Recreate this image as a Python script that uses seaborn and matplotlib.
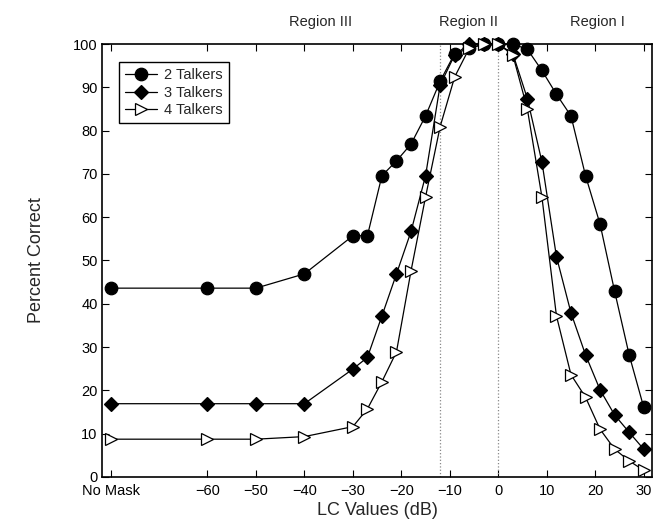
import matplotlib
matplotlib.use("Agg")
import matplotlib.pyplot as plt
import pandas as pd
import seaborn as sns

# LC values in dB; "No Mask" condition is plotted at -80
lc_values = [-80, -60, -50, -40, -30, -27, -24, -21, -18, -15, -12, -9, -6,
             -3, 0, 3, 6, 9, 12, 15, 18, 21, 24, 27, 30]
talkers_2 = [43.6, 43.6, 43.6, 46.9, 55.7, 55.7, 69.6, 73.0, 76.9, 83.4, 91.4,
             97.8, 99.0, 100, 100, 100, 98.8, 93.9, 88.4, 83.4, 69.6, 58.4,
             42.9, 28.2, 16.1]
talkers_3 = [16.9, 16.9, 16.9, 16.9, 24.9, 27.6, 37.2, 46.9, 56.7, 69.6, 90.5,
             97.5, 100, 100, 100, 97.8, 87.4, 72.8, 50.9, 37.9, 28.2, 20.1,
             14.3, 10.3, 6.4]
talkers_4 = [8.7, 8.7, 8.7, 9.3, 11.6, 15.7, 22.0, 28.9, 47.6, 64.7, 80.9,
             92.4, 99.0, 100, 100, 97.5, 85.0, 64.7, 37.2, 23.6, 18.4, 11.0,
             6.4, 3.7, 1.5]

tick_pos = [-80, -60, -50, -40, -30, -20, -10, 0, 10, 20, 30]
tick_labels = ["No Mask", "\u221260", "\u221250", "\u221240", "\u221230",
               "\u221220", "\u221210", "0", "10", "20", "30"]
region_labels = ["Region III", "Region II", "Region I"]
region_x = [-36.7, -6.1, 20.5]
boundaries = [-12, 0]

df = pd.DataFrame({"lc": lc_values, "2 Talkers": talkers_2,
                   "3 Talkers": talkers_3, "4 Talkers": talkers_4})

sns.set_theme(style="ticks")
plt.rcParams["font.family"] = ["Liberation Sans", "DejaVu Sans"]

fig = plt.figure(figsize=(6.61, 5.31), dpi=100)
ax = fig.add_axes([0.154, 0.102, 0.833, 0.815])

for b in boundaries:
    ax.axvline(b, color="#888888", linestyle=":", linewidth=0.9, zorder=1)

styles = {
    "2 Talkers": dict(marker="o", markersize=9, markerfacecolor="black"),
    "3 Talkers": dict(marker="D", markersize=7, markerfacecolor="black"),
    "4 Talkers": dict(marker=">", markersize=8.5, markerfacecolor="white"),
}
for name, st in styles.items():
    sns.lineplot(data=df, x="lc", y=name, ax=ax, color="black", linewidth=0.9,
                 markeredgecolor="black", markeredgewidth=0.9, label=name,
                 zorder=3, clip_on=False, **st)

ax.set_xlim(-81.8, 31.8)
ax.set_ylim(0, 100)
ax.set_xticks(tick_pos)
ax.set_xticklabels(tick_labels)
ax.set_yticks(range(0, 101, 10))
ax.tick_params(direction="in", top=True, right=True, labelsize=10.5,
               length=5, width=0.8, colors="black", pad=3)
ax.tick_params(axis="x", pad=5)
for s in ax.spines.values():
    s.set_visible(True)
    s.set_linewidth(1.2)
    s.set_color("black")

ax.set_xlabel("LC Values (dB)", fontsize=13, labelpad=3)
ax.set_ylabel("Percent Correct", fontsize=13, labelpad=20)

for lab, xv in zip(region_labels, region_x):
    ax.text(xv, 103.5, lab, ha="center", va="bottom", fontsize=10.5)

leg = ax.legend(loc="upper left", bbox_to_anchor=(0.018, 0.975), fontsize=10.5,
                frameon=True, fancybox=False, handlelength=2.2,
                borderpad=0.4, labelspacing=0.25, handletextpad=0.5)
leg.get_frame().set_edgecolor("black")
leg.get_frame().set_linewidth(1.0)
leg.get_frame().set_alpha(1)

fig.savefig("out.png", dpi=100)
